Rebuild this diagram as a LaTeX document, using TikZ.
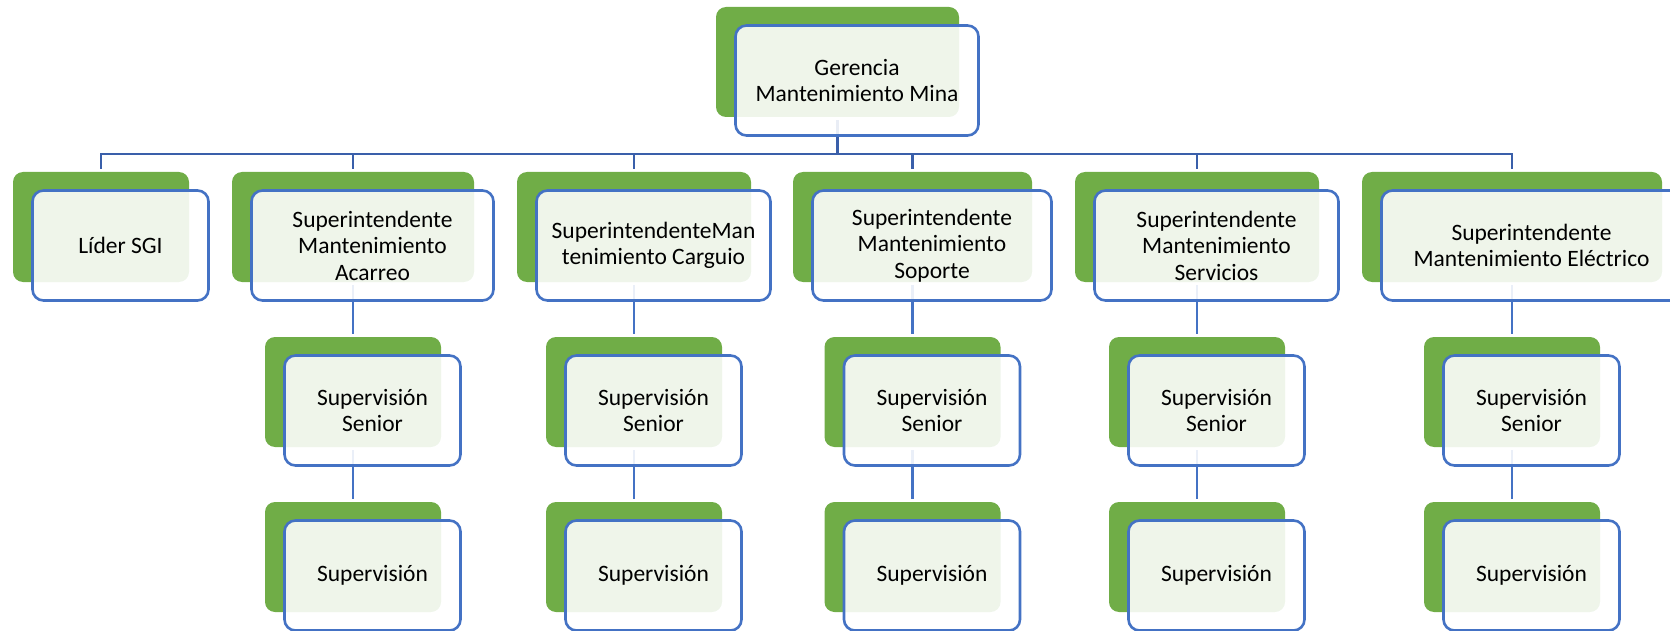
\documentclass[tikz,border=0pt]{standalone}
\usepackage{fontspec}
\setmainfont{Carlito}
\definecolor{boxgreen}{HTML}{70AD47}
\definecolor{boxblue}{HTML}{4472C4}
\definecolor{busblue}{HTML}{3A5FAA}
\pgfdeclarelayer{bg}
\pgfsetlayers{bg,main}
\tikzset{
  greenbox/.style={rectangle, rounded corners=10pt, fill=boxgreen, inner sep=0pt},
  bluebox/.style={rectangle, rounded corners=11pt, draw=boxblue, line width=2.6pt,
    fill=white, fill opacity=0.89, text opacity=1, inner sep=0pt, align=center,
    font=\fontsize{23.5}{26.5}\selectfont},
  conn/.style={draw=boxblue, line width=2.4pt},
  busline/.style={draw=busblue, line width=2.6pt},
}
% green back panel plus offset outlined text panel
\newcommand\orgunit[6]{%
  \node[greenbox, minimum width=#4pt, minimum height=#5pt] (#1g) at (#2,#3) {};
  \node[bluebox, minimum width=#4pt, minimum height=#5pt] (#1) at (#2+19.5,#3+18.5) {#6};
}
\begin{document}
\begin{tikzpicture}[x=1pt,y=-1pt]
\useasboundingbox (0,0) rectangle (1670,631);

% top
\orgunit{top}{837.5}{62}{243}{110}{Gerencia\\Mantenimiento Mina}

% second level
\orgunit{lider}{101}{227}{176}{110}{Líder SGI}
\orgunit{acarreo}{353}{227}{242}{110}{Superintendente\\Mantenimiento\\Acarreo}
\orgunit{carguio}{634}{227}{234}{110}{SuperintendenteMan\\tenimiento Carguio}
\orgunit{soporte}{912.5}{227}{239}{110}{Superintendente\\Mantenimiento\\Soporte}
\orgunit{servicios}{1197}{227}{244}{110}{Superintendente\\Mantenimiento\\Servicios}
\orgunit{electrico}{1512}{227}{300}{110}{Superintendente\\Mantenimiento Eléctrico}

% senior supervision
\orgunit{senA}{353}{392}{176}{110}{Supervisión\\Senior}
\orgunit{senC}{634}{392}{176}{110}{Supervisión\\Senior}
\orgunit{senS}{912.5}{392}{176}{110}{Supervisión\\Senior}
\orgunit{senV}{1197}{392}{176}{110}{Supervisión\\Senior}
\orgunit{senE}{1512}{392}{176}{110}{Supervisión\\Senior}

% supervision
\orgunit{supA}{353}{557}{176}{110}{Supervisión}
\orgunit{supC}{634}{557}{176}{110}{Supervisión}
\orgunit{supS}{912.5}{557}{176}{110}{Supervisión}
\orgunit{supV}{1197}{557}{176}{110}{Supervisión}
\orgunit{supE}{1512}{557}{176}{110}{Supervisión}

\coordinate (bus) at (837.5,154);

\begin{pgfonlayer}{bg}
  \draw[busline, shorten <=3pt] (topg.south) -- (bus);
  \foreach \c in {liderg,acarreog,carguiog,soporteg,serviciosg,electricog}
    \draw[busline, shorten >=3pt] (bus) -| (\c.north);
  \foreach \a/\b/\d in {acarreog/senAg/supAg, carguiog/senCg/supCg, soporteg/senSg/supSg,
                        serviciosg/senVg/supVg, electricog/senEg/supEg} {
    \draw[conn, shorten <=3pt, shorten >=3pt] (\a.south) -- (\b.north);
    \draw[conn, shorten <=3pt, shorten >=3pt] (\b.south) -- (\d.north);
  }
\end{pgfonlayer}
\end{tikzpicture}
\end{document}
